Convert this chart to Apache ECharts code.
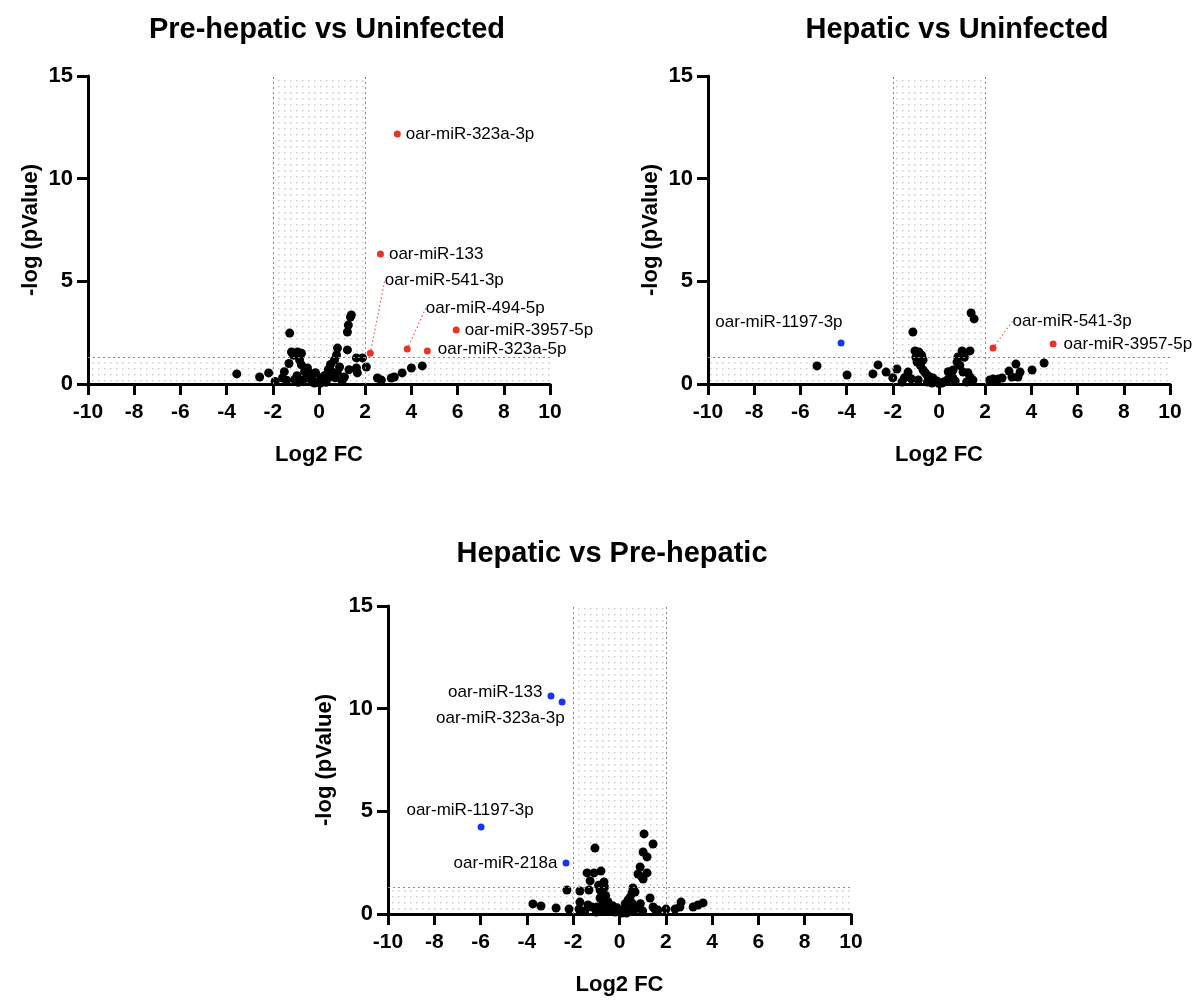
<!DOCTYPE html>
<html>
<head>
<meta charset="utf-8">
<title>Volcano plots</title>
<script src="https://cdn.jsdelivr.net/npm/echarts@6/dist/echarts.min.js"></script>
<style>
  html, body { margin: 0; padding: 0; background: #fff; }
  #chart { width: 1197px; height: 1006px; }
</style>
</head>
<body>
<div id="chart"></div>
<script>
// ---- thresholds ----
const FC_CUT = 2;      // |log2 FC| cut-off
const P_CUT = 1.3;     // -log10(0.05)

// ---- axis ticks ----
const xTicks = { min: -10, max: 10, step: 2 };
const yTicks = { min: 0, max: 15, step: 5 };

// ---- Pre-hepatic vs Uninfected ----
const preUninfNS = [
  [-3.56,0.49],[-2.57,0.34],[-2.18,0.54],[-1.58,0.29],[-1.27,2.48],[-1.19,1.56],[-0.93,1.56],[-0.76,1.5],
  [-0.84,1.17],[-0.76,0.93],[-0.5,0.78],[-0.41,0.54],[-0.54,0.29],[-0.28,0.19],[-0.06,0.1],[0.15,0.19],
  [0.45,0.34],[0.58,0.58],[0.67,1.17],[0.76,1.41],[0.8,1.75],[0.89,0.83],[0.8,0.54],[1.1,0.34],
  [1.23,1.66],[1.23,2.53],[1.27,2.87],[1.36,3.26],[1.4,3.36],[1.62,1.27],[1.62,0.78],[1.66,0.54],
  [1.88,1.27],[2.05,0.83],[2.53,0.29],[2.7,0.19],[3.13,0.29],[3.26,0.34],[3.6,0.54],[4.0,0.78],[4.47,0.88],
  [-1.9,0.12],[-1.4,0.18],[-1.05,0.22],[-0.95,0.4],[-0.7,0.2],[-0.62,0.62],[-0.35,0.35],[-0.2,0.05],
  [0.05,0.03],[0.3,0.08],[0.25,0.42],[0.4,0.7],[0.5,0.95],[0.35,0.25],[-0.9,0.08],[-0.3,0.15],[0.1,0.3],
  [-1.1,1.4],[-1.3,1.0],[1.0,0.15],[1.3,0.7],[-0.15,0.55],[0.7,0.3],[-1.5,0.6]
];
const preUninfUpNames = ['oar-miR-323a-3p','oar-miR-133','oar-miR-541-3p','oar-miR-494-5p','oar-miR-3957-5p','oar-miR-323a-5p'];
const preUninfUpFC    = [3.39, 2.66, 2.22, 3.82, 5.94, 4.69];
const preUninfUpP     = [12.18, 6.33, 1.5, 1.7, 2.63, 1.61];

// ---- Hepatic vs Uninfected ----
const hepUninfNS = [
  [-5.28,0.88],[-3.98,0.44],[-2.86,0.49],[-2.64,0.93],[-2.29,0.58],[-1.82,0.73],[-1.6,0.1],[-1.13,2.53],
  [-1.04,1.61],[-0.87,1.56],[-0.95,1.07],[-0.69,1.17],[-1.34,0.58],[-0.69,0.68],[-0.52,0.44],[-0.39,0.34],
  [-0.26,0.29],[-0.09,0.15],[0.13,0.05],[0.35,0.19],[0.48,0.44],[0.61,0.68],[0.78,1.07],[0.82,1.32],
  [1.0,1.61],[1.34,1.61],[1.04,0.58],[1.34,0.34],[1.47,0.19],[1.39,3.46],[1.52,3.17],[2.2,0.2],
  [2.34,0.24],[2.55,0.24],[2.73,0.29],[3.03,0.63],[3.33,0.97],[3.51,0.58],[3.16,0.34],[3.42,0.34],
  [4.03,0.68],[4.55,1.02],
  [-1.0,1.3],[-0.8,0.9],[-0.6,0.55],[-1.2,0.25],[-0.9,0.2],[-0.3,0.05],[0.0,0.02],[0.2,0.1],[0.6,0.3],
  [0.9,0.9],[1.1,1.3],[0.7,0.15],[1.2,0.1],[-0.5,0.1],[-1.5,0.3],[0.4,0.6],[-0.75,1.4],[1.25,0.55],[-2.0,0.3]
];
const hepUninfDownNames = ['oar-miR-1197-3p'];
const hepUninfDownFC    = [-4.24];
const hepUninfDownP     = [2.0];
const hepUninfUpNames   = ['oar-miR-541-3p','oar-miR-3957-5p'];
const hepUninfUpFC      = [2.34, 4.94];
const hepUninfUpP       = [1.75, 1.95];

// ---- Hepatic vs Pre-hepatic ----
const hepPreNS = [
  [-3.74,0.49],[-3.39,0.39],[-2.74,0.29],[-2.18,0.24],[-2.27,1.17],[-1.75,0.24],[-1.71,0.58],[-1.71,1.12],
  [-1.4,2.0],[-1.1,2.0],[-0.8,2.09],[-1.06,3.21],[-1.27,1.61],[-0.67,1.56],[-1.32,1.17],[-0.84,1.17],
  [-0.76,0.83],[-0.84,0.78],[-1.36,0.44],[-1.19,0.34],[-0.97,0.34],[-0.71,0.54],[-0.54,0.34],[-0.41,0.19],
  [-0.19,0.1],[0.02,0.1],[0.15,0.19],[0.32,0.34],[0.37,0.68],[0.54,1.02],[0.58,1.27],[0.67,1.07],
  [0.54,0.54],[0.76,0.29],[0.8,1.95],[0.97,1.8],[1.02,1.7],[0.89,2.29],[1.19,2.0],[1.02,3.02],
  [1.19,2.78],[1.06,3.9],[1.45,3.41],[1.32,0.78],[1.45,0.34],[1.53,0.24],[1.66,0.19],[2.01,0.24],
  [2.4,0.24],[2.61,0.34],[2.66,0.58],[3.18,0.34],[3.39,0.44],[3.61,0.54],
  [-0.9,1.4],[-0.6,0.9],[-0.5,0.6],[-0.3,0.4],[-1.0,0.1],[-0.7,0.15],[-0.1,0.3],[0.1,0.05],[0.25,0.5],
  [0.45,0.8],[0.6,0.15],[-1.5,0.15],[0.3,0.05],[-0.65,1.3],[-0.45,0.15],[0.9,0.5],[1.0,0.15]
];
const hepPreDownNames = ['oar-miR-133','oar-miR-323a-3p','oar-miR-1197-3p','oar-miR-218a'];
const hepPreDownFC    = [-2.96, -2.48, -5.98, -2.31];
const hepPreDownP     = [10.62, 10.33, 4.24, 2.48];

// ---- panel titles ----
const titles = ['Pre-hepatic vs Uninfected', 'Hepatic vs Uninfected', 'Hepatic vs Pre-hepatic'];

// ---- styling ----
const FONT = "'Liberation Sans', Helvetica, Arial, sans-serif";
const UP = '#ea3323';
const DOWN = '#1535f5';

// label placement per panel / gene: [position, dx, dy, leader line]
const labelPlace = {
  0: {
    'oar-miR-323a-3p': ['right', 0, 0, false],
    'oar-miR-133': ['right', 0, 0, false],
    'oar-miR-541-3p': ['right', 6, -73, true],
    'oar-miR-494-5p': ['right', 10, -41, true],
    'oar-miR-3957-5p': ['right', 0, 0, false],
    'oar-miR-323a-5p': ['right', 2, -2, false]
  },
  1: {
    'oar-miR-1197-3p': ['left', 10, -21, false],
    'oar-miR-541-3p': ['right', 11, -27, true],
    'oar-miR-3957-5p': ['right', 2, 0, false]
  },
  2: {
    'oar-miR-133': ['left', 0, -4, false],
    'oar-miR-323a-3p': ['left', 11, 16, false],
    'oar-miR-1197-3p': ['top', -11, 0, false],
    'oar-miR-218a': ['left', 0, 0, false]
  }
};

function dotPattern() {
  const c = document.createElement('canvas');
  c.width = 6; c.height = 6;
  const g = c.getContext('2d');
  g.fillStyle = '#cdcdcd';
  g.fillRect(2, 2, 1.5, 1.5);
  return { image: c, repeat: 'repeat' };
}
const pattern = dotPattern();

const grids = [
  { left: 88, top: 76, width: 462, height: 308 },
  { left: 708, top: 76, width: 462, height: 308 },
  { left: 388, top: 606, width: 463, height: 308 }
];
const yNameGap = [46, 46, 52];

function xAxis(i) {
  return {
    gridIndex: i, type: 'value', min: xTicks.min, max: xTicks.max, interval: xTicks.step,
    name: 'Log2 FC', nameLocation: 'middle', nameGap: 60,
    nameTextStyle: { fontFamily: FONT, fontWeight: 'bold', fontSize: 22, color: '#000' },
    axisLine: { onZero: false, lineStyle: { color: '#000', width: 3 } },
    axisTick: { length: 11, lineStyle: { color: '#000', width: 3 } },
    axisLabel: { margin: 18, fontFamily: FONT, fontWeight: 'bold', fontSize: 21, color: '#000' },
    splitLine: { show: false }
  };
}
function yAxis(i) {
  return {
    gridIndex: i, type: 'value', min: yTicks.min, max: yTicks.max, interval: yTicks.step,
    name: '-log (pValue)', nameLocation: 'middle', nameGap: yNameGap[i],
    nameTextStyle: { fontFamily: FONT, fontWeight: 'bold', fontSize: 22, color: '#000' },
    axisLine: { onZero: false, lineStyle: { color: '#000', width: 3 } },
    axisTick: { length: 11, lineStyle: { color: '#000', width: 3 } },
    axisLabel: { margin: 15, fontFamily: FONT, fontWeight: 'bold', fontSize: 22, color: '#000' },
    splitLine: { show: false }
  };
}

function shading() {
  return {
    silent: true,
    itemStyle: { color: pattern, opacity: 1, borderWidth: 0 },
    data: [
      [{ xAxis: -FC_CUT, yAxis: yTicks.min }, { xAxis: FC_CUT, yAxis: yTicks.max }],
      [{ xAxis: xTicks.min, yAxis: yTicks.min }, { xAxis: -FC_CUT, yAxis: P_CUT }],
      [{ xAxis: FC_CUT, yAxis: yTicks.min }, { xAxis: xTicks.max, yAxis: P_CUT }]
    ]
  };
}
function cutLines() {
  return {
    silent: true, symbol: 'none', animation: false,
    label: { show: false },
    lineStyle: { color: '#8a8a8a', width: 1, type: [2, 3] },
    emphasis: { disabled: true },
    data: [{ xAxis: -FC_CUT }, { xAxis: FC_CUT }, { yAxis: P_CUT }]
  };
}

function bgSeries(i, pts) {
  return {
    type: 'scatter', xAxisIndex: i, yAxisIndex: i,
    data: pts, symbolSize: 9,
    itemStyle: { color: '#000', opacity: 1 },
    markArea: shading(), markLine: cutLines(),
    z: 3
  };
}

function hitSeries(i, names, fc, p, color) {
  const places = labelPlace[i];
  return {
    type: 'scatter', xAxisIndex: i, yAxisIndex: i,
    symbolSize: 7, itemStyle: { color: color, opacity: 1 },
    z: 5,
    data: names.map((n, k) => {
      const pl = places[n];
      return {
        name: n, value: [fc[k], p[k]],
        label: { position: pl[0] },
        labelLine: { show: pl[3] }
      };
    }),
    label: {
      show: true, formatter: '{b}', distance: 5,
      fontFamily: FONT, fontSize: 17, color: '#000'
    },
    labelLine: { show: false, lineStyle: { color: UP, width: 1.2, type: [1.5, 2.5], opacity: 0.8 } },
    labelLayout: function (params) {
      const pl = places[params.text];
      return pl ? { dx: pl[1], dy: pl[2] } : {};
    }
  };
}

const titleStyle = { fontFamily: FONT, fontWeight: 'bold', fontSize: 29, color: '#000' };

const option = {
  animation: false,
  backgroundColor: '#fff',
  title: [
    { text: titles[0], left: 322, top: 10, textAlign: 'center', textStyle: titleStyle },
    { text: titles[1], left: 952, top: 10, textAlign: 'center', textStyle: titleStyle },
    { text: titles[2], left: 607, top: 534, textAlign: 'center', textStyle: titleStyle }
  ],
  grid: grids,
  xAxis: [xAxis(0), xAxis(1), xAxis(2)],
  yAxis: [yAxis(0), yAxis(1), yAxis(2)],
  series: [
    bgSeries(0, preUninfNS),
    hitSeries(0, preUninfUpNames, preUninfUpFC, preUninfUpP, UP),
    bgSeries(1, hepUninfNS),
    hitSeries(1, hepUninfDownNames, hepUninfDownFC, hepUninfDownP, DOWN),
    hitSeries(1, hepUninfUpNames, hepUninfUpFC, hepUninfUpP, UP),
    bgSeries(2, hepPreNS),
    hitSeries(2, hepPreDownNames, hepPreDownFC, hepPreDownP, DOWN)
  ]
};

const chart = echarts.init(document.getElementById('chart'), null, { renderer: 'canvas' });
chart.setOption(option);
</script>
</body>
</html>
